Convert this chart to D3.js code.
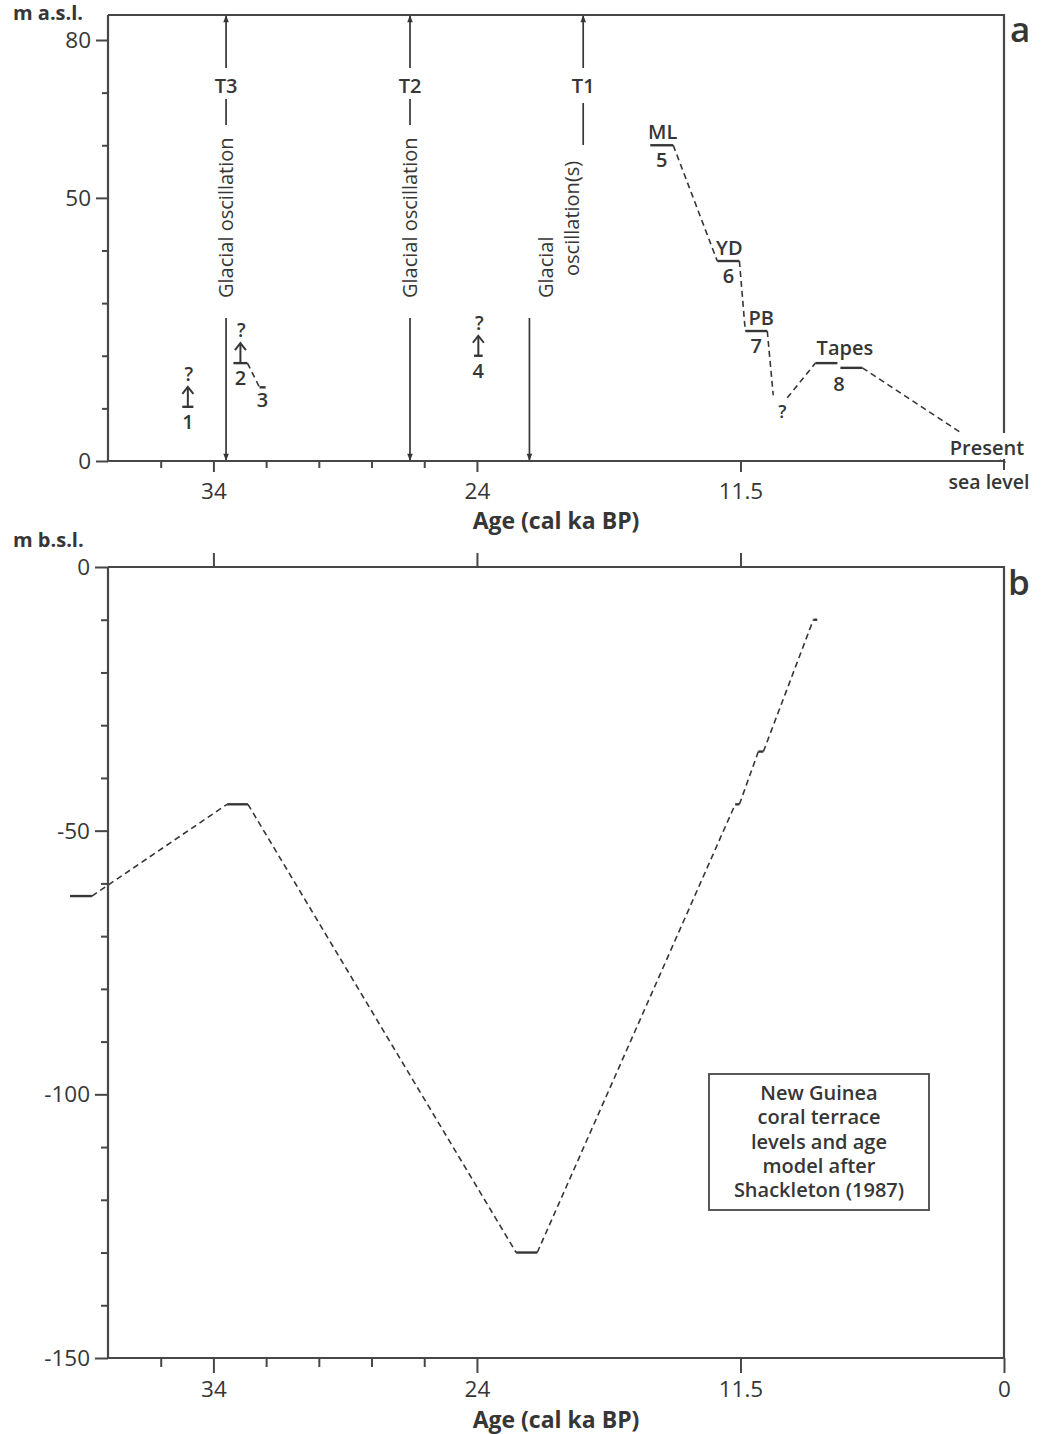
<!DOCTYPE html>
<html><head><meta charset="utf-8">
<script src="https://cdn.jsdelivr.net/npm/d3@7"></script>
<style>
html,body{margin:0;padding:0;background:#fff;}
svg{display:block;font-family:"Open Sans",sans-serif;}
</style></head>
<body>
<svg id="chart" width="1048" height="1434"></svg>
<script>
// ---------------- DATA ----------------
// age axis (cal ka BP): piecewise, the labelled ages are equally spaced
const ageBreaks = [38, 34, 24, 11.5, 0];
const ageTicks = [36, 34, 32, 30, 28, 26, 24, 11.5, 0];
const ageMajor = [34, 24, 11.5, 0];
const levelTicksA = [0, 10, 20, 30, 40, 50, 60, 70, 80];
const levelMajorA = [0, 50, 80];
const levelTicksB = [0, -10, -20, -30, -40, -50, -60, -70, -80, -90, -100, -110, -120, -130, -140, -150];
const levelMajorB = [0, -50, -100, -150];

// panel a: shoreline / terrace levels (m a.s.l.)
const aTerraceName  = ["1", "2", "3", "4", "5", "6", "7", "8", "8"];
const aTerraceTitle = ["", "", "", "", "ML", "YD", "PB", "Tapes", ""];
const aTerraceStart = [35.18, 33.24, 32.25, 24.11, 15.78, 12.60, 11.29, 8.23, 7.14];
const aTerraceEnd   = [34.76, 32.71, 32.02, 23.73, 14.69, 11.55, 10.33, 7.27, 6.18];
const aTerraceLevel = [10.3, 18.6, 14.0, 20.0, 60.0, 38.0, 24.7, 18.6, 17.7];
const aUncertainUp  = [true, true, false, true, false, false, false, false, false];
// dashed sea-level connections (age, level) in panel a
const aCurveAge   = [[32.71, 32.25], [14.69, 12.60], [11.55, 11.29], [10.33, 10.07], [9.46, 8.23], [6.18, 0]];
const aCurveLevel = [[18.6, 14.0],   [60.0, 38.0],   [38.0, 24.7],   [24.7, 12.5],   [12.0, 18.6], [17.7, 0]];
const aQuestionAge = 9.67, aQuestionLevel = 9.1;

// panel a: transgressions / glacial oscillations
const transName    = ["T3", "T2", "T1"];
const transUpAge   = [33.52, 26.54, 18.96];
const transDownAge = [33.52, 26.54, 21.51];

// panel b: New Guinea coral terraces (m b.s.l.)
const bTerraceStart = [39.44, 33.48, 22.14, 11.75, 10.72, 8.32];
const bTerraceEnd   = [38.61, 32.69, 21.14, 11.55, 10.50, 8.15];
const bTerraceLevel = [-62.4, -45.0, -130.0, -45.0, -35.0, -10.0];

const legendLines = ["New Guinea", "coral terrace", "levels and age", "model after", "Shackleton (1987)"];

// ---------------- LAYOUT ----------------
const svg = d3.select("#chart");
const L = 108, R = 1004;
const step = (R - L) / 3.4;
const x = d3.scaleLinear().domain(ageBreaks)
  .range([L, L + 0.4 * step, L + 1.4 * step, L + 2.4 * step, R]);

const aTop = 15, aBottom = 461;
const yA = d3.scaleLinear().domain([0, 80]).range([aBottom, 40]);
const bTop = 567, bBottom = 1358;
const yB = d3.scaleLinear().domain([0, -150]).range([bTop, bBottom]);

const INK = "#363636", AX = "#474747";
const fmt = d => String(d);
const TICKFS = 22.5, LBLFS = 20;

// arrow markers
const defs = svg.append("defs");
defs.append("marker").attr("id", "ah").attr("viewBox", "0 0 10 10")
  .attr("refX", 9).attr("refY", 5).attr("markerWidth", 8).attr("markerHeight", 7)
  .attr("markerUnits", "userSpaceOnUse").attr("orient", "auto")
  .append("path").attr("d", "M0,1 L10,5 L0,9 Z").attr("fill", INK);

// ---------------- PANEL A ----------------
const ga = svg.append("g");

// frame
ga.append("path").attr("d", `M${L},${aTop}H${R}V${aBottom}`)
  .attr("fill", "none").attr("stroke", AX).attr("stroke-width", 2.2);

// y axis
const yAxA = d3.axisLeft(yA).tickValues(levelTicksA).tickSizeOuter(0)
  .tickFormat(d => levelMajorA.includes(d) ? fmt(d) : "");
const gya = ga.append("g").attr("transform", `translate(${L},0)`).call(yAxA);
gya.select(".domain").attr("d", `M0,${aTop}V${aBottom}`).attr("stroke", AX).attr("stroke-width", 2.2);
gya.selectAll(".tick line").attr("stroke", AX).attr("stroke-width", 2)
  .attr("x2", d => levelMajorA.includes(d) ? -12 : -6);
gya.selectAll(".tick text").attr("x", -17).attr("font-size", TICKFS).attr("fill", INK)
  .attr("font-family", "Open Sans").attr("dy", "0.34em");

// x axis
const xAxA = d3.axisBottom(x).tickValues(ageTicks).tickSizeOuter(0)
  .tickFormat(d => (ageMajor.includes(d) && d !== 0) ? fmt(d) : "");
const gxa = ga.append("g").attr("transform", `translate(0,${aBottom})`).call(xAxA);
gxa.select(".domain").attr("d", `M${L},0H${R}`).attr("stroke", AX).attr("stroke-width", 2.2);
gxa.selectAll(".tick line").attr("stroke", AX).attr("stroke-width", 2)
  .attr("y2", d => ageMajor.includes(d) ? 11 : 7);
gxa.selectAll(".tick text").attr("y", 38).attr("dy", null).attr("font-size", TICKFS)
  .attr("fill", INK).attr("font-family", "Open Sans");

ga.append("text").attr("x", 556).attr("y", 529).attr("text-anchor", "middle")
  .attr("font-size", 23).attr("font-weight", 700).attr("fill", INK).text("Age (cal ka BP)");
ga.append("text").attr("x", 13).attr("y", 20).attr("font-size", 20)
  .attr("font-weight", 700).attr("fill", INK).text("m a.s.l.");
ga.append("text").attr("x", 1010).attr("y", 42).attr("font-size", 35)
  .attr("font-weight", 600).attr("fill", INK).text("a");

// transgression arrows
transName.forEach((name, i) => {
  const xu = x(transUpAge[i]), xd = x(transDownAge[i]);
  ga.append("line").attr("x1", xu).attr("x2", xu).attr("y1", 68).attr("y2", aTop + 1)
    .attr("stroke", INK).attr("stroke-width", 1.7).attr("marker-end", "url(#ah)");
  ga.append("text").attr("x", xu).attr("y", 93).attr("text-anchor", "middle")
    .attr("font-size", LBLFS).attr("font-weight", 600).attr("fill", INK).text(name);
  const single = transUpAge[i] === transDownAge[i];
  ga.append("line").attr("x1", xu).attr("x2", xu).attr("y1", single ? 99 : 103).attr("y2", single ? 125 : 145)
    .attr("stroke", INK).attr("stroke-width", 1.7);
  if (single) {
    ga.append("text").attr("transform", `translate(${xu + 7},298) rotate(-90)`)
      .attr("font-size", 20).attr("fill", INK).text("Glacial oscillation");
  } else {
    ga.append("text").attr("transform", `translate(${xu - 4},276) rotate(-90)`)
      .attr("font-size", 20).attr("fill", INK).text("oscillation(s)");
    ga.append("text").attr("transform", `translate(${xd + 24},298) rotate(-90)`)
      .attr("font-size", 20).attr("fill", INK).text("Glacial");
  }
  ga.append("line").attr("x1", xd).attr("x2", xd).attr("y1", 318).attr("y2", aBottom - 1)
    .attr("stroke", INK).attr("stroke-width", 1.7).attr("marker-end", "url(#ah)");
});

// dashed sea-level connections
aCurveAge.forEach((ages, i) => {
  ga.append("line").attr("x1", x(ages[0])).attr("y1", yA(aCurveLevel[i][0]))
    .attr("x2", x(ages[1])).attr("y2", yA(aCurveLevel[i][1]))
    .attr("stroke", INK).attr("stroke-width", 1.6).attr("stroke-dasharray", "6,4");
});

// white box behind "Present sea level"
ga.append("rect").attr("x", 946).attr("y", 433).attr("width", 90).attr("height", 26).attr("fill", "#fff");
ga.append("rect").attr("x", 946).attr("y", 463).attr("width", 90).attr("height", 32).attr("fill", "#fff");
ga.append("line").attr("x1", R).attr("x2", R).attr("y1", aBottom).attr("y2", aBottom + 9)
  .attr("stroke", AX).attr("stroke-width", 2);
ga.append("path").attr("d", `M${L},${aBottom}H${R}`).attr("stroke", AX).attr("stroke-width", 2.2);
ga.append("text").attr("x", 987).attr("y", 455).attr("text-anchor", "middle")
  .attr("font-size", LBLFS).attr("font-weight", 600).attr("fill", INK).text("Present");
ga.append("text").attr("x", 989).attr("y", 489).attr("text-anchor", "middle")
  .attr("font-size", 19.5).attr("font-weight", 600).attr("fill", INK).text("sea level");

// terraces
aTerraceStart.forEach((s, i) => {
  const x1 = x(s), x2 = x(aTerraceEnd[i]), yy = yA(aTerraceLevel[i]);
  const cx = (x1 + x2) / 2;
  ga.append("line").attr("x1", x1).attr("x2", x2).attr("y1", yy).attr("y2", yy)
    .attr("stroke", INK).attr("stroke-width", 2.4);
  if (aUncertainUp[i]) {
    const top = yy - 20;
    ga.append("line").attr("x1", cx).attr("x2", cx).attr("y1", yy).attr("y2", top + 1)
      .attr("stroke", INK).attr("stroke-width", 2);
    ga.append("path").attr("d", `M${cx - 5.5},${top + 7}L${cx},${top}L${cx + 5.5},${top + 7}`)
      .attr("fill", "none").attr("stroke", INK).attr("stroke-width", 2);
    ga.append("text").attr("x", cx + 1).attr("y", top - 6).attr("text-anchor", "middle")
      .attr("font-size", 19).attr("font-weight", 600).attr("fill", INK).text("?");
  }
  const nm = aTerraceName[i];
  const isTapes1 = aTerraceTitle[i] === "Tapes";
  const isTapes2 = nm === "8" && aTerraceTitle[i] === "";
  if (!isTapes1 && !isTapes2) {
    const off = nm === "3" ? 20 : 22;
    ga.append("text").attr("x", cx).attr("y", yy + off).attr("text-anchor", "middle")
      .attr("font-size", LBLFS).attr("font-weight", 600).attr("fill", INK).text(nm);
  }
  if (isTapes1) {
    const x3 = x(aTerraceStart[i + 1]);
    ga.append("text").attr("x", (x2 + x3) / 2).attr("y", yy + 28).attr("text-anchor", "middle")
      .attr("font-size", LBLFS).attr("font-weight", 600).attr("fill", INK).text(nm);
    ga.append("text").attr("x", (x2 + x3) / 2 + 6).attr("y", yy - 8).attr("text-anchor", "middle")
      .attr("font-size", LBLFS).attr("font-weight", 600).attr("fill", INK).text("Tapes");
  } else if (aTerraceTitle[i]) {
    const dxT = aTerraceTitle[i] === "PB" ? 5 : 1;
    ga.append("text").attr("x", cx + dxT).attr("y", yy - 6).attr("text-anchor", "middle")
      .attr("font-size", LBLFS).attr("font-weight", 600).attr("fill", INK).text(aTerraceTitle[i]);
  }
});
ga.append("text").attr("x", x(aQuestionAge)).attr("y", yA(aQuestionLevel) + 5).attr("text-anchor", "middle")
  .attr("font-size", 18).attr("font-weight", 600).attr("fill", INK).text("?");

// ---------------- PANEL B ----------------
const gb = svg.append("g");
gb.append("path").attr("d", `M${L},${bTop}H${R}V${bBottom}`)
  .attr("fill", "none").attr("stroke", AX).attr("stroke-width", 2.2);

const yAxB = d3.axisLeft(yB).tickValues(levelTicksB).tickSizeOuter(0)
  .tickFormat(d => levelMajorB.includes(d) ? fmt(d) : "");
const gyb = gb.append("g").attr("transform", `translate(${L},0)`).call(yAxB);
gyb.select(".domain").attr("d", `M0,${bTop}V${bBottom}`).attr("stroke", AX).attr("stroke-width", 2.2);
gyb.selectAll(".tick line").attr("stroke", AX).attr("stroke-width", 2)
  .attr("x2", d => levelMajorB.includes(d) ? -13 : -7);
gyb.selectAll(".tick text").attr("x", -18).attr("font-size", TICKFS).attr("fill", INK)
  .attr("font-family", "Open Sans").attr("dy", "0.34em");

const xAxB = d3.axisBottom(x).tickValues(ageTicks).tickSizeOuter(0).tickFormat(d => ageMajor.includes(d) ? fmt(d) : "");
const gxb = gb.append("g").attr("transform", `translate(0,${bBottom})`).call(xAxB);
gxb.select(".domain").attr("d", `M${L},0H${R}`).attr("stroke", AX).attr("stroke-width", 2.2);
gxb.selectAll(".tick line").attr("stroke", AX).attr("stroke-width", 2)
  .attr("y2", d => ageMajor.includes(d) ? 15 : 9);
gxb.selectAll(".tick text").attr("y", 39).attr("dy", null).attr("font-size", TICKFS)
  .attr("fill", INK).attr("font-family", "Open Sans");

const xAxBTop = d3.axisTop(x).tickValues(ageMajor.filter(d => d !== 0)).tickSizeOuter(0).tickFormat("");
const gxbt = gb.append("g").attr("transform", `translate(0,${bTop})`).call(xAxBTop);
gxbt.select(".domain").remove();
gxbt.selectAll(".tick line").attr("stroke", AX).attr("stroke-width", 2).attr("y2", -14);

gb.append("text").attr("x", 556).attr("y", 1428).attr("text-anchor", "middle")
  .attr("font-size", 23).attr("font-weight", 700).attr("fill", INK).text("Age (cal ka BP)");
gb.append("text").attr("x", 13).attr("y", 547).attr("font-size", 20)
  .attr("font-weight", 700).attr("fill", INK).text("m b.s.l.");
gb.append("text").attr("x", 1008).attr("y", 595).attr("font-size", 35)
  .attr("font-weight", 600).attr("fill", INK).text("b");

// dashed connections between terraces
bTerraceStart.forEach((s, i) => {
  if (i === 0) return;
  gb.append("line").attr("x1", x(bTerraceEnd[i - 1])).attr("y1", yB(bTerraceLevel[i - 1]))
    .attr("x2", x(s)).attr("y2", yB(bTerraceLevel[i]))
    .attr("stroke", INK).attr("stroke-width", 1.6).attr("stroke-dasharray", "6,4");
});
bTerraceStart.forEach((s, i) => {
  const yy = yB(bTerraceLevel[i]);
  gb.append("line").attr("x1", x(s)).attr("x2", x(bTerraceEnd[i])).attr("y1", yy).attr("y2", yy)
    .attr("stroke", INK).attr("stroke-width", 2.4);
});

// legend box
gb.append("rect").attr("x", 709).attr("y", 1074).attr("width", 220).attr("height", 136)
  .attr("fill", "#fff").attr("stroke", AX).attr("stroke-width", 1.8);
legendLines.forEach((t, i) => {
  gb.append("text").attr("x", 819).attr("y", 1100 + i * 24.3).attr("text-anchor", "middle")
    .attr("font-size", 20).attr("font-weight", 600).attr("fill", INK).text(t);
});
</script>
</body></html>
